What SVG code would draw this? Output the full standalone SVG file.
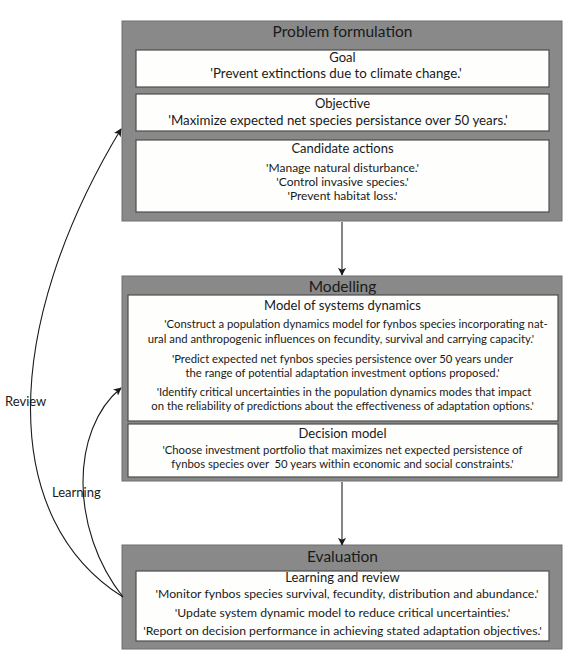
<svg xmlns="http://www.w3.org/2000/svg" width="573" height="658" viewBox="0 0 573 658">
<style>
.outer{fill:#898989;stroke:#6f6f6f;stroke-width:1}
.inner{fill:#fefefc;stroke:#4d4d4d;stroke-width:1.2}
text{font-family:Lato,"Open Sans","Liberation Sans",sans-serif;fill:#1a1a1a;text-anchor:middle}
.title{font-size:15.5px}
.sub{font-size:13px}
.body{font-size:13.3px}
.cand{font-size:12px}
.small{font-size:11.3px}
.ev{font-size:12.2px}
.lbl{font-size:13px;text-anchor:start}
.conn{fill:none;stroke:#1a1a1a;stroke-width:1.1}
.vconn{fill:none;stroke:#444;stroke-width:1.3}
</style>
<defs>
<marker id="ah" viewBox="0 0 10 10" refX="9" refY="5" markerWidth="8" markerHeight="8" markerUnits="userSpaceOnUse" orient="auto">
<path d="M0,0 L10,5 L0,10 L2.5,5 Z" fill="#1a1a1a"/>
</marker>
</defs>
<g id="problem-formulation">
<rect class="outer" x="122" y="21" width="440" height="200"/>
<text class="title" x="342.5" y="37">Problem formulation</text>
<rect class="inner" x="136" y="50" width="413" height="37"/>
<text class="sub" x="342.5" y="62">Goal</text>
<text class="body" x="336" y="78">'Prevent extinctions due to climate change.'</text>
<rect class="inner" x="136" y="94" width="413" height="37"/>
<text class="sub" x="342.5" y="108">Objective</text>
<text class="body" x="338" y="125">'Maximize expected net species persistance over 50 years.'</text>
<rect class="inner" x="136" y="140" width="413" height="72"/>
<text class="sub" x="342.5" y="153">Candidate actions</text>
<text class="cand" x="342.5" y="171.5">'Manage natural disturbance.'</text>
<text class="cand" x="342.5" y="185.5">'Control invasive species.'</text>
<text class="cand" x="342.5" y="199.5">'Prevent habitat loss.'</text>
</g>
<g id="modelling">
<rect class="outer" x="122" y="276" width="440" height="205"/>
<text class="title" x="342.5" y="292">Modelling</text>
<rect class="inner" x="128" y="295" width="430" height="126"/>
<text class="sub" x="342.5" y="310">Model of systems dynamics</text>
<text class="small" x="356" y="328">'Construct a population dynamics model for fynbos species incorporating nat-</text>
<text class="small" x="341" y="343">ural and anthropogenic influences on fecundity, survival and carrying capacity.'</text>
<text class="small" x="342.5" y="363">'Predict expected net fynbos species persistence over 50 years under</text>
<text class="small" x="342.5" y="377">the range of potential adaptation investment options proposed.'</text>
<text class="small" x="344" y="396">'Identify critical uncertainties in the population dynamics modes that impact</text>
<text class="small" x="342.5" y="410">on the reliability of predictions about the effectiveness of adaptation options.'</text>
<rect class="inner" x="128" y="424" width="430" height="53"/>
<text class="sub" x="342.5" y="438">Decision model</text>
<text class="small" x="342.5" y="454">'Choose investment portfolio that maximizes net expected persistence of</text>
<text class="small" x="342.5" y="468" xml:space="preserve">fynbos species over  50 years within economic and social constraints.'</text>
</g>
<g id="evaluation">
<rect class="outer" x="122" y="545" width="440" height="104"/>
<text class="title" x="342.5" y="562">Evaluation</text>
<rect class="inner" x="136" y="571" width="413" height="70"/>
<text class="sub" x="342.5" y="582">Learning and review</text>
<text class="ev" x="347" y="598">'Monitor fynbos species survival, fecundity, distribution and abundance.'</text>
<text class="ev" x="342.5" y="617">'Update system dynamic model to reduce critical uncertainties.'</text>
<text class="ev" x="342.5" y="635">'Report on decision performance in achieving stated adaptation objectives.'</text>
</g>
<g id="connectors">
<line class="vconn" x1="342" y1="222" x2="342" y2="275" marker-end="url(#ah)"/>
<line class="vconn" x1="342" y1="482" x2="342" y2="545" marker-end="url(#ah)"/>
<path class="conn" d="M123,597 C0,520 0,330 121,129" marker-end="url(#ah)"/>
<path class="conn" d="M123,597 C70,530 70,430 121,388" marker-end="url(#ah)"/>
<text class="lbl" x="5" y="406">Review</text>
<text class="lbl" x="52" y="497">Learning</text>
</g>
</svg>
